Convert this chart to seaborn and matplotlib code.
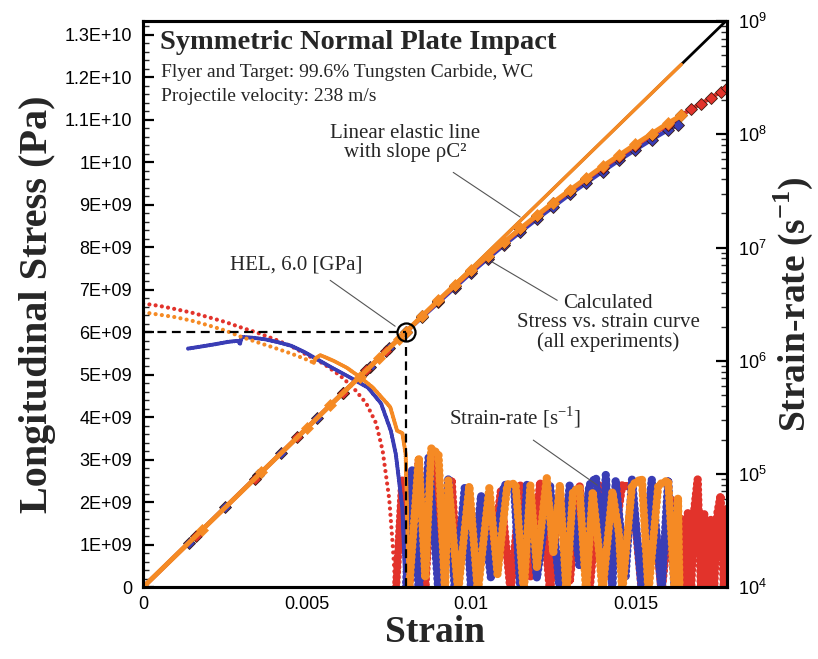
import numpy as np
import pandas as pd
import seaborn as sns
import matplotlib
matplotlib.use('Agg')
import matplotlib.pyplot as plt
from matplotlib.ticker import MultipleLocator, FuncFormatter, LogLocator, NullFormatter


# ---- stress vs strain (stress in GPa) ----
ss_strain_blue = [0, 0.0014, 0.0025, 0.0035, 0.0042, 0.0053, 0.0061, 0.0069, 0.0075, 0.0080,
                  0.0085, 0.0090, 0.0095, 0.0100, 0.0105, 0.0110, 0.0115, 0.0120, 0.0125, 0.0130,
                  0.0135, 0.0140, 0.0145, 0.0150, 0.0155, 0.0160, 0.0163]
ss_stress_blue = [0, 1.05, 1.88, 2.63, 3.15, 3.98, 4.58, 5.18, 5.63, 6.0,
                  6.35, 6.70, 7.05, 7.40, 7.73, 8.05, 8.36, 8.66, 8.95, 9.24,
                  9.51, 9.78, 10.04, 10.29, 10.53, 10.76, 10.88]

ss_strain_red = [0, 0.0016, 0.0034, 0.0047, 0.0061, 0.0068, 0.0074, 0.0080,
                 0.0085, 0.0090, 0.0095, 0.0100, 0.0105, 0.0110, 0.0115, 0.0120, 0.0125, 0.0130,
                 0.0135, 0.0140, 0.0145, 0.0150, 0.0155, 0.0160, 0.0164, 0.0167, 0.0170, 0.0173,
                 0.0176, 0.0178]
ss_stress_red = [0, 1.2, 2.55, 3.53, 4.58, 5.1, 5.55, 6.0,
                 6.37, 6.73, 7.09, 7.44, 7.78, 8.1, 8.42, 8.73, 9.03, 9.32,
                 9.6, 9.87, 10.13, 10.39, 10.64, 10.88, 11.1, 11.25, 11.38, 11.51,
                 11.66, 11.75]

ss_strain_orange = [0, 0.0018, 0.0036, 0.0050, 0.0057, 0.0066, 0.0072, 0.0078, 0.0080,
                    0.0085, 0.0090, 0.0095, 0.0100, 0.0105, 0.0110, 0.0115, 0.0120, 0.0125,
                    0.0130, 0.0135, 0.0140, 0.0145, 0.0150, 0.0155, 0.0160, 0.0164]
ss_stress_orange = [0, 1.35, 2.7, 3.75, 4.28, 4.95, 5.4, 5.85, 6.0,
                    6.38, 6.75, 7.11, 7.46, 7.8, 8.12, 8.44, 8.75, 9.05,
                    9.34, 9.62, 9.9, 10.16, 10.42, 10.67, 10.92, 11.1]

elastic_strain = [0, 0.0178]
elastic_stress = [0, 13.35]
elastic_strain_orange = [0, 0.0164]
elastic_stress_orange = [0, 12.3]

hel_strain = 0.008
hel_stress = 6.0

# ---- strain-rate vs strain (s^-1) ----
sr_strain_red = [0, 0.0005, 0.001, 0.0015, 0.002, 0.0025, 0.003, 0.0035, 0.004, 0.0045,
                 0.005, 0.0055, 0.006, 0.0064, 0.0068, 0.0071, 0.0073, 0.0075, 0.0076, 0.0077,
                 0.0079, 0.0081, 0.0084, 0.0086, 0.00885, 0.0091, 0.0094, 0.0096, 0.0099, 0.0101,
                 0.0104, 0.0106, 0.0109, 0.0112, 0.0115, 0.0118, 0.0121, 0.0124, 0.0127, 0.0130,
                 0.0133, 0.0136, 0.0139, 0.0142, 0.0146, 0.0149, 0.0152, 0.0155, 0.0158, 0.0161,
                 0.0163, 0.0164, 0.0165, 0.0166, 0.0167, 0.0168, 0.0169, 0.0170, 0.0171, 0.0172,
                 0.0173, 0.0174, 0.0175, 0.0176, 0.0177, 0.0178]
sr_rate_red = [3.2e6, 3.05e6, 2.85e6, 2.65e6, 2.42e6, 2.2e6, 1.96e6, 1.76e6, 1.55e6, 1.35e6,
               1.12e6, 9.4e5, 7.4e5, 5.8e5, 4.2e5, 2.8e5, 1.6e5, 6e4, 2.5e4, 9e3,
               9e4, 9e3, 1.3e5, 1e4, 1.6e5, 9e3, 9e4, 1.1e4, 7.5e4, 9e3,
               6e4, 1.5e4, 7e4, 9e3, 8e4, 1.2e4, 8.5e4, 9e3, 7e4, 1.1e4,
               8e4, 9e3, 8e4, 1.2e4, 8e4, 7.6e4, 9e3, 7e4, 9e3, 6e4,
               9e3, 4e4, 9e3, 4.5e4, 9e3, 5e4, 9e4, 9e3, 4.5e4, 9e3,
               4e4, 9e3, 4.5e4, 6.5e4, 9e3, 5e4]

sr_strain_blue = [0.00137, 0.0018, 0.0022, 0.0026, 0.0029, 0.00295, 0.0030, 0.0033, 0.0037, 0.0041,
                  0.0045, 0.0049, 0.0052, 0.00575, 0.0062, 0.00685, 0.00725, 0.00755, 0.0077, 0.0079,
                  0.0080, 0.0082, 0.0084, 0.0087, 0.0090, 0.0093, 0.0095, 0.0098, 0.0100, 0.0103,
                  0.0106, 0.0110, 0.0113, 0.0115, 0.0117, 0.0120, 0.0124, 0.0127, 0.0130, 0.0133,
                  0.0136, 0.0138, 0.0140, 0.0141, 0.0143, 0.0144, 0.0147, 0.0149, 0.0152, 0.0155,
                  0.0158, 0.0160, 0.0162, 0.0163]
sr_rate_blue = [1.28e6, 1.34e6, 1.40e6, 1.47e6, 1.50e6, 1.40e6, 1.62e6, 1.60e6, 1.55e6, 1.46e6,
                1.36e6, 1.2e6, 1.07e6, 8.7e5, 7.4e5, 5.8e5, 4.2e5, 2.4e5, 1.5e5, 5e4,
                9e3, 1.1e5, 9e3, 1.4e5, 9e3, 9e4, 9e3, 7.5e4, 9e3, 6.5e4,
                1.2e4, 8e4, 8e4, 9e3, 8.3e4, 1.2e4, 8e4, 9e3, 8e4, 1.5e4,
                8e4, 9.3e4, 2e4, 9.8e4, 9e3, 8.8e4, 1.2e4, 9e4, 9e3, 9e4,
                9e3, 9e4, 9e3, 5e4]

sr_strain_orange = [0, 0.0005, 0.001, 0.0015, 0.002, 0.0025, 0.003, 0.0035, 0.004, 0.0045,
                    0.0050, 0.0052, 0.00525, 0.0054, 0.0058, 0.0062, 0.0066, 0.0070, 0.00753, 0.00774,
                    0.0079, 0.0080, 0.0081, 0.0084, 0.0086, 0.00878, 0.0090, 0.0092, 0.0093, 0.0096,
                    0.00994, 0.0102, 0.01055, 0.0108, 0.0111, 0.01135, 0.0116, 0.0118, 0.0120, 0.0123,
                    0.0125, 0.0127, 0.0129, 0.0131, 0.0133, 0.0135, 0.0137, 0.0139, 0.0140, 0.0143,
                    0.0145, 0.0146, 0.0149, 0.0152, 0.0154, 0.0157, 0.0160, 0.0162, 0.0163, 0.01635]
sr_rate_orange = [2.68e6, 2.55e6, 2.42e6, 2.25e6, 2.05e6, 1.85e6, 1.62e6, 1.45e6, 1.3e6, 1.16e6,
                  1.02e6, 9.6e5, 1.05e6, 1.12e6, 1.0e6, 8.7e5, 7.2e5, 5.8e5, 3.9e5, 2.4e5,
                  2.3e5, 1.5e5, 9e3, 1.4e5, 1.2e4, 1.68e5, 1.5e5, 9e3, 8.8e4, 9e3,
                  7.9e4, 9e3, 7.5e4, 1.3e4, 8.1e4, 8.2e4, 9e3, 7.9e4, 1.5e4, 9.3e4,
                  2e4, 8e4, 9e3, 7e4, 7.6e4, 9e3, 7e4, 2e4, 9e3, 7e4,
                  3e4, 9e3, 8e4, 9.1e4, 9e3, 8e4, 8.8e4, 9e3, 6.2e4, 9e3]

# strain ranges: sparse dotted part, dense part before plunge, ringing part
split_red = [0.0077, 0.0077]
split_blue = [0.00137, 0.0080]
split_orange = [0.0052, 0.0081]

BLUE = '#3a3db5'
RED = '#e2332b'
ORANGE = '#f58a24'

sns.set_theme(style='white')
plt.rcParams['font.family'] = ['Liberation Sans', 'DejaVu Sans']
plt.rcParams['mathtext.fontset'] = 'custom'
plt.rcParams['mathtext.rm'] = 'Liberation Serif'
plt.rcParams['mathtext.bf'] = 'Liberation Serif:bold'
plt.rcParams['mathtext.sf'] = 'Liberation Sans'
SERIF = ['Liberation Serif', 'DejaVu Serif']

fig = plt.figure(figsize=(8.18, 6.59), dpi=100)
ax = fig.add_axes([0.175, 0.109, 0.714, 0.859])
ax2 = ax.twinx()
ax.set_zorder(ax2.get_zorder() + 1)
ax.patch.set_visible(False)

# strain-rate dots (right axis)
ax2.set_yscale('log')
for xs, ys, c, cuts in [(sr_strain_red, sr_rate_red, RED, split_red),
                        (sr_strain_blue, sr_rate_blue, BLUE, split_blue),
                        (sr_strain_orange, sr_rate_orange, ORANGE, split_orange)]:
    df = pd.DataFrame({'strain': xs, 'rate': ys})
    sparse = df[df.strain <= cuts[0]]
    dense = df[(df.strain >= cuts[0]) & (df.strain <= cuts[1])]
    ring = df[df.strain >= cuts[1]]
    if len(sparse) > 1:
        sns.lineplot(data=sparse, x='strain', y='rate', ax=ax2, color=c, sort=False,
                     estimator=None, lw=3.0, linestyle=(0, (0.01, 1.5)), dash_capstyle='round')
    if len(dense) > 1:
        sns.lineplot(data=dense, x='strain', y='rate', ax=ax2, color=c, sort=False,
                     estimator=None, lw=3.0, linestyle=(0, (0.01, 0.5)), dash_capstyle='round')
    sns.lineplot(data=ring, x='strain', y='rate', ax=ax2, color=c, sort=False, estimator=None,
                 lw=6.0, linestyle=(0, (0.01, 0.6)), dash_capstyle='round')

# stress-strain curves (left axis)
to_pa = lambda v: np.array(v) * 1e9
sns.lineplot(x=elastic_strain, y=to_pa(elastic_stress), ax=ax, color='black', lw=2, estimator=None)
for xs, ys, c in [(ss_strain_blue, ss_stress_blue, BLUE),
                  (ss_strain_red, ss_stress_red, RED)]:
    sns.lineplot(x=xs, y=to_pa(ys), ax=ax, color=c, lw=3, estimator=None, sort=False,
                 marker='D', markersize=6, markeredgecolor='#3a1a10', markeredgewidth=0.6)
sns.lineplot(x=elastic_strain_orange, y=to_pa(elastic_stress_orange), ax=ax, color=ORANGE,
             lw=2.5, estimator=None)
sns.lineplot(x=ss_strain_orange, y=to_pa(ss_stress_orange), ax=ax, color=ORANGE, lw=3.5,
             estimator=None, sort=False, marker='D', markersize=6.5,
             markeredgecolor=ORANGE, markeredgewidth=0.5)

# HEL marker and dashed guides
ax.plot([0, hel_strain], [hel_stress * 1e9] * 2, color='black', lw=1.6, ls=(0, (4, 2.5)))
ax.plot([hel_strain] * 2, [0, hel_stress * 1e9], color='black', lw=1.6, ls=(0, (4, 2.5)))
ax.plot([hel_strain], [hel_stress * 1e9], marker='o', ms=13, mfc='none', mec='black', mew=1.6)

# axes limits and ticks
ax.set_xlim(0, 0.0178)
ax.set_ylim(0, 1.332e10)
ax2.set_ylim(1e4, 1e9)

ax.xaxis.set_major_locator(MultipleLocator(0.005))
ax.xaxis.set_minor_locator(MultipleLocator(0.001))
ax.yaxis.set_major_locator(MultipleLocator(1e9))
ax.yaxis.set_minor_locator(MultipleLocator(2e8))


def stress_fmt(v, pos):
    if abs(v) < 1:
        return '0'
    m, e = f'{v:.1E}'.split('E')
    if m.endswith('.0'):
        m = m[:-2]
    return f'{m}E{e}'


ax.yaxis.set_major_formatter(FuncFormatter(stress_fmt))
ax.xaxis.set_major_formatter(FuncFormatter(lambda v, p: f'{round(v, 4):g}'))
ax2.yaxis.set_major_locator(LogLocator(base=10, numticks=10))
ax2.yaxis.set_minor_locator(LogLocator(base=10, subs=np.arange(2, 10), numticks=20))
ax2.yaxis.set_minor_formatter(NullFormatter())
ax2.yaxis.set_major_formatter(FuncFormatter(lambda v, p: r'$\mathsf{10^{%d}}$' % round(np.log10(v))))

ax.tick_params(axis='both', which='major', direction='in', length=8, width=1.6,
               labelsize=13, colors='black', top=False, right=False)
ax.tick_params(axis='both', which='minor', direction='in', length=4, width=1,
               top=False, right=False)
ax.tick_params(axis='x', pad=6)
ax.tick_params(axis='y', pad=8)
ax2.tick_params(axis='y', which='major', direction='in', length=8, width=1.6, labelsize=13,
                pad=8, colors='black')
ax2.tick_params(axis='y', which='minor', direction='in', length=4, width=1)

for a in (ax, ax2):
    for s in a.spines.values():
        s.set_linewidth(2.2)
        s.set_color('black')

ax.set_xlabel('Strain', fontsize=27, fontweight='bold', family=SERIF, labelpad=2)
ax.set_ylabel('Longitudinal Stress (Pa)', fontsize=29, fontweight='bold', family=SERIF, labelpad=6)
ax2.set_ylabel(r'Strain-rate (s$^{\mathbf{-1}}$)', fontsize=27, fontweight='bold', family=SERIF,
               labelpad=3)

# texts
ax.text(0.029, 0.962, 'Symmetric Normal Plate Impact', transform=ax.transAxes, fontsize=20.5,
        fontweight='bold', family=SERIF, va='center', ha='left')
ax.text(0.031, 0.909, 'Flyer and Target: 99.6% Tungsten Carbide, WC', transform=ax.transAxes,
        fontsize=14, family=SERIF, va='center', ha='left')
ax.text(0.031, 0.867, 'Projectile velocity: 238 m/s', transform=ax.transAxes,
        fontsize=14, family=SERIF, va='center', ha='left')

ax.text(0.00799, 10.45e9, 'Linear elastic line\nwith slope \u03c1C\u00b2', fontsize=15,
        family=SERIF, ha='center', va='center', linespacing=1.0)
ax.plot([0.00945, 0.01149], [9.76e9, 8.71e9], color='#555555', lw=0.8)

ax.text(0.00467, 7.58e9, 'HEL, 6.0 [GPa]', fontsize=15, family=SERIF, ha='center', va='center')
ax.plot([0.0057, 0.00768], [7.22e9, 6.14e9], color='#555555', lw=0.8)

ax.text(0.01418, 6.21e9, 'Calculated\nStress vs. strain curve\n(all experiments)', fontsize=15,
        family=SERIF, ha='center', va='center', linespacing=1.0)
ax.plot([0.01262, 0.01064], [6.75e9, 7.65e9], color='#555555', lw=0.8)

ax.text(0.01134, 4.0e9, r'Strain-rate [s$^{-1}$]', fontsize=15, family=SERIF,
        ha='center', va='center')
ax.plot([0.01189, 0.01384], [3.46e9, 2.4e9], color='#555555', lw=0.8)

fig.savefig('out.png', dpi=100)
